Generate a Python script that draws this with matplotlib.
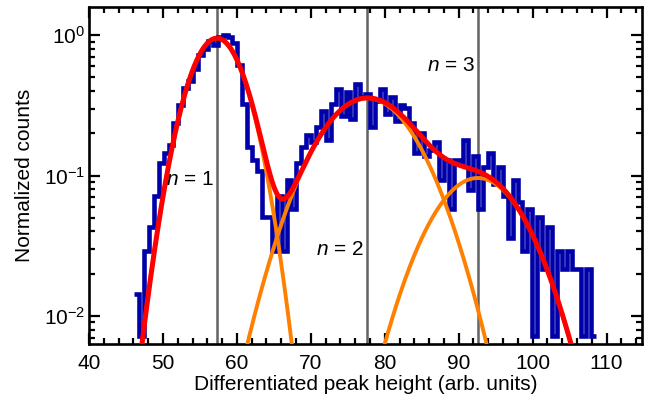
import numpy as np
import matplotlib
matplotlib.use("Agg")
import matplotlib.pyplot as plt
from matplotlib.ticker import MultipleLocator, LogLocator, NullFormatter

plt.rcParams['font.family'] = ['Liberation Sans', 'DejaVu Sans']
plt.rcParams['mathtext.fontset'] = 'custom'
plt.rcParams['mathtext.rm'] = 'Liberation Sans'
plt.rcParams['mathtext.it'] = 'Liberation Sans:italic'
plt.rcParams['mathtext.bf'] = 'Liberation Sans:bold'

# ---- data -------------------------------------------------------------
bin_start = 46.1
bin_width = 0.665
counts = [2, 1, 4, 6, 10, 17, 20, 23, 33, 44,
          58, 66, 80, 100, 110, 127, 118, 135, 139, 134,
          122, 85, 45, 22, 18, 15, 7, 7, 4, 10,
          4, 13, 8, 17, 22, 27, 24, 31, 40, 25,
          45, 57, 37, 55, 35, 62, 50, 53, 31, 47,
          57, 38, 50, 34, 44, 42, 33, 20, 28, 19,
          21, 24, 13, 18, 8, 18, 17, 25, 11, 19,
          8, 16, 20, 12, 16, 10, 5, 13, 9, 4,
          8, 1, 7, 3, 6, 1, 4, 3, 4, 3,
          3, 1, 3, 1]

# fitted Gaussian components: centres, amplitudes, widths
peak_centers = [57.3, 77.6, 92.6]
peak_amps = [0.95, 0.355, 0.096]
peak_sigmas = [3.2, 5.7, 5.4]
peak_labels = ["$\\it{n}$ = 1", "$\\it{n}$ = 2", "$\\it{n}$ = 3"]
label_levels = [0.093, 0.0295, 0.61]

FS = 15

# ---- figure -----------------------------------------------------------
fig = plt.figure(figsize=(6.55, 4.05), dpi=100)
ax = fig.add_axes([89 / 655, 61 / 405, (642 - 89) / 655, (344 - 7) / 405])

counts_arr = np.array(counts, dtype=float)
norm = counts_arr / counts_arr.max()
edges = bin_start + bin_width * np.arange(len(counts) + 1)

for c in peak_centers:
    ax.axvline(c, color='#636363', lw=1.8, zorder=1)

ax.stairs(norm, edges, baseline=None, color='#0000aa', lw=3.3, zorder=2)

xf = np.linspace(38, 118, 1200)
comps = [a * np.exp(-(xf - c) ** 2 / (2 * s ** 2))
         for c, a, s in zip(peak_centers, peak_amps, peak_sigmas)]
for g in comps:
    ax.plot(xf, g, color='#ff8000', lw=2.8, zorder=3)
ax.plot(xf, np.sum(comps, axis=0), color='#ff0000', lw=3.6, zorder=4)

for c, lab, lev in zip(peak_centers, peak_labels, label_levels):
    ax.text(c - 0.35, lev, lab, ha='right', va='center', fontsize=FS, zorder=5)

ax.set_yscale('log')
ax.set_xlim(40, 114.8)
ax.set_ylim(10 ** -2.2, 10 ** 0.2)

ax.xaxis.set_major_locator(MultipleLocator(10))
ax.xaxis.set_minor_locator(MultipleLocator(2))
ax.yaxis.set_major_locator(LogLocator(base=10, numticks=10))
ax.yaxis.set_minor_locator(LogLocator(base=10, subs=np.arange(2, 10), numticks=20))
ax.yaxis.set_minor_formatter(NullFormatter())

ax.tick_params(which='both', direction='in', top=True, right=True, width=1.6,
               labelsize=FS, colors='black')
ax.tick_params(which='major', length=8)
ax.tick_params(which='minor', length=4.5)
ax.tick_params(axis='x', which='major', pad=7)
ax.tick_params(axis='y', which='major', pad=3)
for sp in ax.spines.values():
    sp.set_linewidth(1.9)

ax.set_xlabel('Differentiated peak height (arb. units)', fontsize=FS, labelpad=2)
ax.set_ylabel('Normalized counts', fontsize=FS, labelpad=7)

fig.savefig('out.png', dpi=100)
